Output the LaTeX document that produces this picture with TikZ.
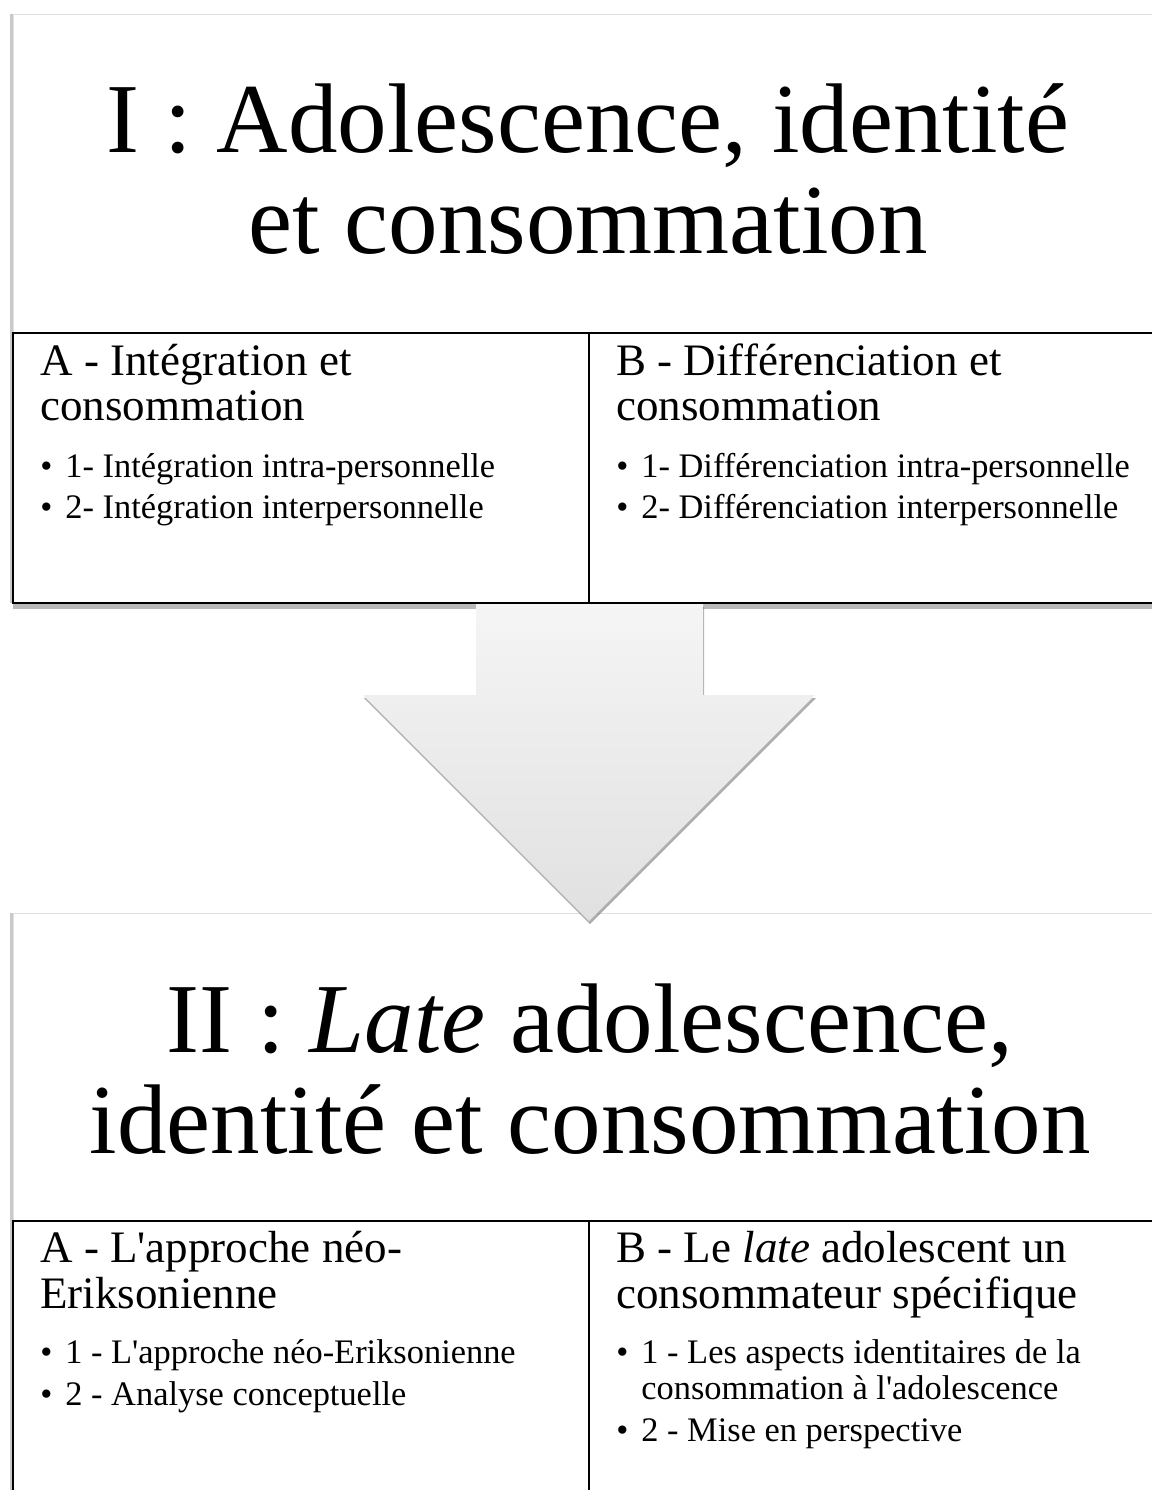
\documentclass[tikz,border=0pt]{standalone}
\usepackage{fontspec}
\setmainfont{Liberation Serif}[Ligatures=TeXOff]
\usetikzlibrary{shadows}
\newcommand{\bul}{\makebox[12.5pt][l]{\textbullet}}

\begin{document}
\begin{tikzpicture}[x=0.5pt, y=-0.5pt,
	titletext/.style={font=\fontsize{49.5}{50}\selectfont, anchor=base, inner sep=0},
	headtext/.style={font=\fontsize{22.5}{23}\selectfont, anchor=base west, inner sep=0},
	itemtext/.style={font=\fontsize{17.2}{20}\selectfont, anchor=base west, inner sep=0},
	bigbox/.style={fill=white, draw=black!12, line width=0.5pt,
		drop shadow={shadow xshift=-1.5pt, shadow yshift=0pt, opacity=0.35, fill=black!60}},
	subbox/.style={fill=white, draw=black, line width=0.8pt,
		drop shadow={shadow xshift=0pt, shadow yshift=-3pt, opacity=0.45, fill=black!60}},
	arrowshape/.style={top color=black!4, bottom color=black!12, draw=none,
		drop shadow={shadow xshift=0.5pt, shadow yshift=-1.5pt, opacity=0.45, fill=black!70}}]
	\useasboundingbox (0,0) rectangle (1152,1490);
	\clip (0,0) rectangle (1152,1490);
	\fill[white] (0,0) rectangle (1152,1490);

	% I : Adolescence, identite et consommation
	\path[bigbox] (13,14) rectangle (1170,603);
	\path[subbox] (13,333) rectangle (589,603);
	\path[subbox] (589,333) rectangle (1170,603);
	\node[titletext] (t1a) at (588,152) {I : Adolescence, identité};
	\node[titletext] (t1b) at (588,253) {et consommation};

	\node[headtext] (a1) at (40,375) {A - Intégration et};
	\node[headtext] (a2) at (40,420) {consommation};
	\node[itemtext] (a3) at (40,477) {\bul1- Intégration intra-personnelle};
	\node[itemtext] (a4) at (40,518) {\bul2- Intégration interpersonnelle};

	\node[headtext] (b1) at (616,375) {B - Différenciation et};
	\node[headtext] (b2) at (616,420) {consommation};
	\node[itemtext] (b3) at (616,477) {\bul1- Différenciation intra-personnelle};
	\node[itemtext] (b4) at (616,518) {\bul2- Différenciation interpersonnelle};

	% II : Late adolescence, identite et consommation
	\path[bigbox] (13,913) rectangle (1170,1510);
	\path[subbox] (13,1221) rectangle (589,1510);
	\path[subbox] (589,1221) rectangle (1170,1510);
	\node[titletext] (t2a) at (590,1052) {II : \textit{Late} adolescence,};
	\node[titletext] (t2b) at (590,1153) {identité et consommation};

	\node[headtext] (c1) at (40,1262) {A - L'approche néo-};
	\node[headtext] (c2) at (40,1308) {Eriksonienne};
	\node[itemtext] (c3) at (40,1363) {\bul1 - L'approche néo-Eriksonienne};
	\node[itemtext] (c4) at (40,1405) {\bul2 - Analyse conceptuelle};

	\node[headtext] (d1) at (616,1262) {B - Le \textit{late} adolescent un};
	\node[headtext] (d2) at (616,1308) {consommateur spécifique};
	\node[itemtext] (d3) at (616,1363) {\bul1 - Les aspects identitaires de la};
	\node[itemtext] (d4) at (641,1399) {consommation à l'adolescence};
	\node[itemtext] (d5) at (616,1441) {\bul2 - Mise en perspective};

	% down arrow
	\path[arrowshape] (476,604) -- (703,604) -- (703,695) -- (815,695)
		-- (589,921) -- (363,695) -- (476,695) -- cycle;
\end{tikzpicture}
\end{document}
